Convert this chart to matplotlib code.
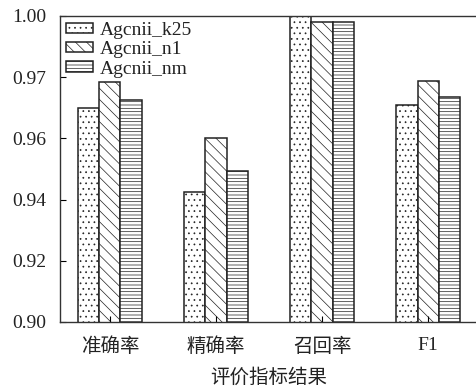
import numpy as np
import matplotlib.pyplot as plt

plt.rcParams['font.family'] = ['Liberation Serif', 'Noto Sans CJK SC']
plt.rcParams['hatch.linewidth'] = 0.5
plt.rcParams['hatch.color'] = 'black'

# evaluation results per metric
metrics = ['准确率', '精确率', '召回率', 'F1']
models = ['Agcnii_k25', 'Agcnii_n1', 'Agcnii_nm']
k25_vals = [0.9699, 0.9426, 1.0000, 0.9708]
n1_vals = [0.9784, 0.9600, 0.9981, 0.9787]
nm_vals = [0.9725, 0.9494, 0.9981, 0.9734]
ytick_vals = [0.90, 0.92, 0.94, 0.96, 0.98, 1.00]
ytick_labels = ['0.90', '0.92', '0.94', '0.96', '0.97', '1.00']

hatches = ['...', '\\\\\\', '-----']
series = [k25_vals, n1_vals, nm_vals]

fig = plt.figure(figsize=(4.76, 3.90), dpi=100)
ax = fig.add_axes([60 / 476, 1 - 322 / 390, 418 / 476, 306 / 390])

x = np.arange(len(metrics))
w = 0.2
for i, (vals, name, h) in enumerate(zip(series, models, hatches)):
    ax.bar(x + (i - 1) * w, vals, width=w, bottom=0, color='white',
           edgecolor='#222222', linewidth=1.1, hatch=h, label=name)

ax.set_ylim(0.90, 1.00)
ax.set_xlim(-0.47, 3.47)
ax.set_yticks(ytick_vals)
ax.set_yticklabels(ytick_labels)
ax.set_xticks(x)
ax.set_xticklabels(metrics)
ax.tick_params(direction='in', labelsize=14, length=4, width=0.8,
               labelcolor='#222222')
ax.tick_params(axis='y', pad=10)
ax.tick_params(axis='x', pad=11)
ax.set_xlabel('评价指标结果', fontsize=14, labelpad=9, color='#222222')
for s in ax.spines.values():
    s.set_linewidth(1.0)
    s.set_color('#333333')

ax.legend(loc='upper left', frameon=False, fontsize=14, handlelength=1.4,
          handleheight=0.45, handletextpad=0.35, labelspacing=0.12,
          borderaxespad=0.1, borderpad=0.2, labelcolor='#222222')

fig.savefig('out.png', dpi=100)
